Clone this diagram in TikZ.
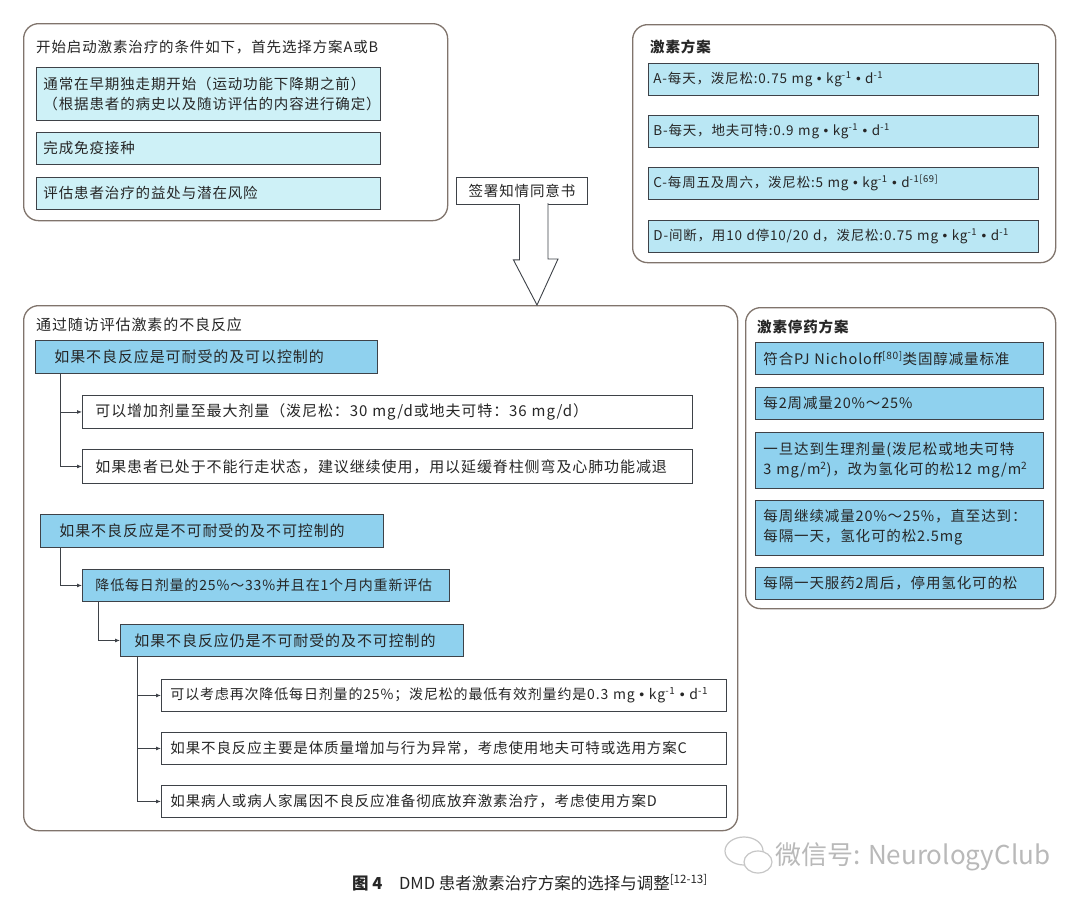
\documentclass[tikz,border=0pt]{standalone}
\usepackage{fontspec}
\setmainfont{Noto Sans CJK SC}[LetterSpace=6]
\newfontfamily\capfont{Noto Sans CJK SC}
\newfontfamily\dotfont{Liberation Sans}
\usetikzlibrary{positioning, arrows.meta, calc}

\definecolor{panelline}{RGB}{128,116,108}
\definecolor{boxline}{RGB}{62,66,72}
\definecolor{palecyan}{RGB}{206,241,247}
\definecolor{lightcyan}{RGB}{186,231,244}
\definecolor{skyblue}{RGB}{143,209,238}
\definecolor{txt}{RGB}{38,38,38}

\newcommand{\minusone}{\textsuperscript{-1}}
\newcommand{\mdot}{\ {\dotfont •}\ }

\begin{document}
\begin{tikzpicture}[
    x=1pt, y=-1pt,
    every node/.style={font=\fontsize{14.5}{20}\selectfont, text=txt},
    panel/.style={draw=panelline, line width=1.3pt, rounded corners=15pt, fill=white, anchor=north west, inner sep=0pt},
    cbox/.style={draw=boxline, line width=0.9pt, anchor=north west, align=left, text width=#1, minimum height=32pt, inner ysep=2pt},
    big/.style={font=\fontsize{15}{20}\selectfont},
    title/.style={anchor=west, inner sep=0pt},
    boldtitle/.style={title, font=\fontsize{14.5}{20}\selectfont\bfseries},
    link/.style={draw=boxline, line width=0.9pt, -{Latex[length=5pt, width=4pt]}}
]
    \fill[white] (0,0) rectangle (1080,910);
    \useasboundingbox (0,0) rectangle (1080,910);

    % Start conditions
    \node[panel, minimum width=424pt, minimum height=197pt] (startpanel) at (23,23) {};
    \node[title] (starttitle) at (36,47) {开始启动激素治疗的条件如下，首先选择方案A或B};
    \node[cbox=330pt, fill=palecyan, inner xsep=7pt, minimum height=53pt] (start1) at (36,67) {通常在早期独走期开始（运动功能下降期之前）\\（根据患者的病史以及随访评估的内容进行确定）};
    \node[cbox=330pt, fill=palecyan, inner xsep=7pt, below=11pt of start1] (start2) {完成免疫接种};
    \node[cbox=330pt, fill=palecyan, inner xsep=7pt, below=12pt of start2] (start3) {评估患者治疗的益处与潜在风险};

    % Regimens
    \node[panel, minimum width=423pt, minimum height=238pt] (planpanel) at (632,24) {};
    \node[boldtitle] (plantitle) at (650,47) {激素方案};
    \node[cbox=380pt, fill=lightcyan, inner xsep=5pt, font=\fontsize{13.5}{18}\selectfont] (planA) at (648,63) {A-每天，泼尼松:0.75 mg\mdot kg\minusone\mdot d\minusone};
    \node[cbox=380pt, fill=lightcyan, inner xsep=5pt, font=\fontsize{13.5}{18}\selectfont, below=19pt of planA] (planB) {B-每天，地夫可特:0.9 mg\mdot kg\minusone\mdot d\minusone};
    \node[cbox=380pt, fill=lightcyan, inner xsep=5pt, font=\fontsize{13.5}{18}\selectfont, below=19pt of planB] (planC) {C-每周五及周六，泼尼松:5 mg\mdot kg\minusone\mdot d\textsuperscript{-1[69]}};
    \node[cbox=380pt, fill=lightcyan, inner xsep=5pt, font=\fontsize{13.5}{18}\selectfont, below=20pt of planC] (planD) {D-间断，用10 d停10/20 d，泼尼松:0.75 mg\mdot kg\minusone\mdot d\minusone};

    % Consent
    \node[draw=boxline, line width=0.9pt, fill=white, minimum width=131pt, minimum height=27pt, anchor=north west] (consent) at (456,177) {签署知情同意书};

    % Adverse effects
    \node[panel, minimum width=714pt, minimum height=525pt] (adversepanel) at (23,305) {};
    \node[title, big] (adversetitle) at (36,325) {通过随访评估激素的不良反应};
    \node[cbox=304pt, fill=skyblue, inner xsep=19pt, minimum height=33pt, big] (tol) at (35,340) {如果不良反应是可耐受的及可以控制的};
    \node[cbox=584pt, fill=white, inner xsep=13pt, minimum height=33pt, big] (tolA) at (82,395) {可以增加剂量至最大剂量（泼尼松：30 mg/d或地夫可特：36 mg/d）};
    \node[cbox=584pt, fill=white, inner xsep=13pt, minimum height=34pt, big] (tolB) at (82,449) {如果患者已处于不能行走状态，建议继续使用，用以延缓脊柱侧弯及心肺功能减退};

    \node[cbox=305pt, fill=skyblue, inner xsep=19pt, minimum height=33pt, big] (intol) at (40,514) {如果不良反应是不可耐受的及不可控制的};
    \node[cbox=341pt, fill=skyblue, inner xsep=13pt, font=\fontsize{14}{18}\selectfont] (reduce) at (82,569) {降低每日剂量的25\%～33\%并且在1个月内重新评估};
    \node[cbox=315pt, fill=skyblue, inner xsep=14pt, big] (still) at (120,624) {如果不良反应仍是不可耐受的及不可控制的};
    \node[cbox=547pt, fill=white, inner xsep=9pt, font=\fontsize{14}{18}\selectfont] (lower) at (161,679) {可以考虑再次降低每日剂量的25\%；泼尼松的最低有效剂量约是0.3 mg\mdot kg\minusone\mdot d\minusone};
    \node[cbox=547pt, fill=white, inner xsep=9pt, font=\fontsize{14.5}{18}\selectfont] (switch) at (161,732) {如果不良反应主要是体质量增加与行为异常，考虑使用地夫可特或选用方案C};
    \node[cbox=547pt, fill=white, inner xsep=9pt, font=\fontsize{14.5}{18}\selectfont] (quit) at (161,785) {如果病人或病人家属因不良反应准备彻底放弃激素治疗，考虑使用方案D};

    \coordinate (tolstem) at ($(tol.south west)+(25pt,0)$);
    \draw[link] (tolstem) |- (tolA.west);
    \draw[link] (tolstem) |- (tolB.west);
    \coordinate (intolstem) at ($(intol.south west)+(20pt,0)$);
    \draw[link] (intolstem) |- (reduce.west);
    \coordinate (reducestem) at ($(reduce.south west)+(16pt,0)$);
    \draw[link] (reducestem) |- (still.west);
    \coordinate (stillstem) at ($(still.south west)+(17pt,0)$);
    \draw[link] (stillstem) |- (lower.west);
    \draw[link] (stillstem) |- (switch.west);
    \draw[link] (stillstem) |- (quit.west);

    % Consent arrow
    \coordinate (tip) at (537,305);
    \draw[draw=boxline, line width=0.9pt, fill=white] ($(consent.south)+(-2.5pt,0.8pt)$) -- ++(0,-55.8pt) -- ++(-6pt,0) -- (tip) -- ++(21pt,46pt) -- ++(-10pt,0) -- ++(0,55.8pt);

    % Tapering
    \node[panel, minimum width=310pt, minimum height=301pt] (taperpanel) at (745,307) {};
    \node[boldtitle] (tapertitle) at (757,327) {激素停药方案};
    \node[cbox=272pt, fill=skyblue, inner xsep=8pt] (taper1) at (755,342) {符合PJ Nicholoff\textsuperscript{[80]}类固醇减量标准};
    \node[cbox=272pt, fill=skyblue, inner xsep=8pt, below=12pt of taper1] (taper2) {每2周减量20\%～25\%};
    \node[cbox=272pt, fill=skyblue, inner xsep=8pt, minimum height=56pt, below=12pt of taper2] (taper3) {一旦达到生理剂量(泼尼松或地夫可特\\3 mg/m\textsuperscript{2})，改为氢化可的松12 mg/m\textsuperscript{2}};
    \node[cbox=272pt, fill=skyblue, inner xsep=8pt, minimum height=55pt, below=11pt of taper3] (taper4) {每周继续减量20\%～25\%，直至达到：\\每隔一天，氢化可的松2.5mg};
    \node[cbox=272pt, fill=skyblue, inner xsep=8pt, below=11pt of taper4] (taper5) {每隔一天服药2周后，停用氢化可的松};

    % Caption and watermark
    \node[anchor=west, inner sep=0pt, font=\capfont\fontsize{16.5}{19}\selectfont] (caption) at (352,883) {\textbf{图 4}\quad DMD 患者激素治疗方案的选择与调整\textsuperscript{[12-13]}};
    \draw[gray!45, line width=1.2pt] (744,851) ellipse (19pt and 14pt);
    \draw[gray!45, line width=1.2pt, fill=white] (758,862) ellipse (14pt and 11pt);
    \node[anchor=west, inner sep=0pt, font=\capfont\fontsize{26}{30}\selectfont, text=gray!55] (mark) at (775,857) {微信号: NeurologyClub};
\end{tikzpicture}
\end{document}
